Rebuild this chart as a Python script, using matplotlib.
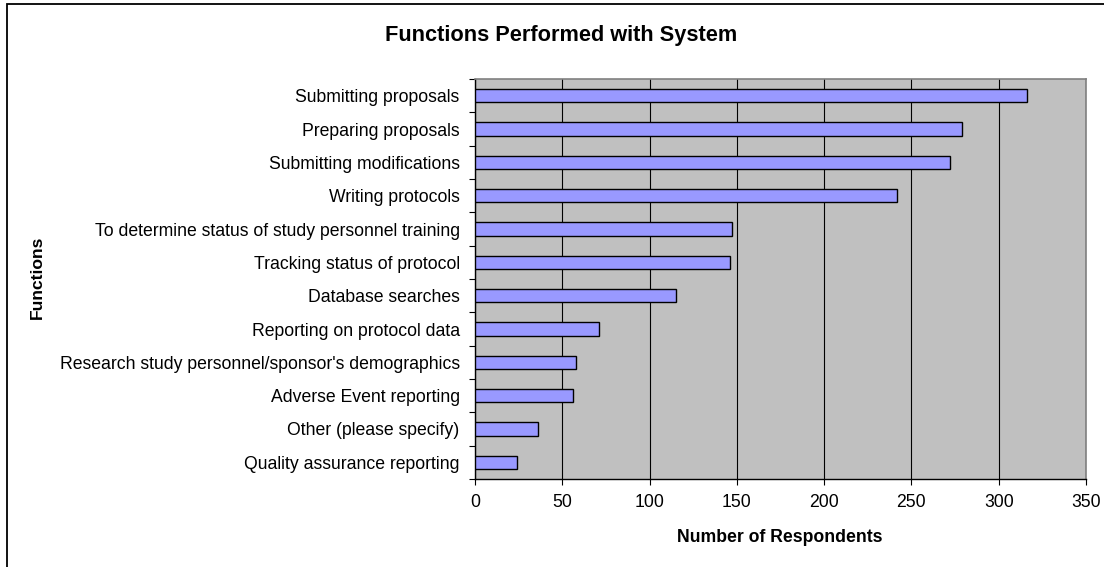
import matplotlib.pyplot as plt
import numpy as np
from matplotlib.patches import Rectangle

plt.rcParams['font.family'] = ['Liberation Sans', 'DejaVu Sans']

# categories, top to bottom as in the chart
functions = [
    "Submitting proposals",
    "Preparing proposals",
    "Submitting modifications",
    "Writing protocols",
    "To determine status of study personnel training",
    "Tracking status of protocol",
    "Database searches",
    "Reporting on protocol data",
    "Research study personnel/sponsor's demographics",
    "Adverse Event reporting",
    "Other (please specify)",
    "Quality assurance reporting",
]
respondents = [316, 279, 272, 242, 147, 146, 115, 71, 58, 56, 36, 24]
x_ticks = [0, 50, 100, 150, 200, 250, 300, 350]

fig = plt.figure(figsize=(11.04, 5.67), dpi=100)
W, H = 1104, 567

# outer chart border (runs off the right and bottom edges)
fig.patches.append(Rectangle((7 / W, -0.1), 1.2, 1 - 4 / H + 0.1,
                             transform=fig.transFigure, fill=False,
                             edgecolor='black', linewidth=1.3))

ax = fig.add_axes([475 / W, 1 - 479 / H, (1086 - 475) / W, (479 - 79) / H])
ax.set_facecolor('#C0C0C0')

n = len(functions)
ypos = np.arange(n)
ax.barh(ypos, respondents, height=0.4, color='#9999FF',
        edgecolor='black', linewidth=1.0, zorder=3)

ax.set_ylim(n - 0.5, -0.5)
ax.set_xlim(0, 350)
ax.set_xticks(x_ticks)
ax.set_xticklabels([str(t) for t in x_ticks], fontsize=12.7)
ax.xaxis.grid(True, color='black', linewidth=0.8, zorder=0)
ax.set_axisbelow(True)

# labels at bar centres, tick marks at category boundaries
ax.set_yticks(ypos)
ax.set_yticklabels(functions, fontsize=12.7)
ax.tick_params(axis='y', length=0, pad=11)
ax.set_yticks(np.arange(n + 1) - 0.5, minor=True)
ax.tick_params(axis='y', which='minor', length=4, width=0.8)
ax.tick_params(axis='x', length=4, width=0.8, pad=7)

for side in ['top', 'right']:
    ax.spines[side].set_color('#808080')
    ax.spines[side].set_linewidth(1.2)
for side in ['left', 'bottom']:
    ax.spines[side].set_color('black')
    ax.spines[side].set_linewidth(1.0)

fig.text(561 / W, 1 - 35 / H, "Functions Performed with System",
         fontsize=15.7, fontweight='bold', ha='center', va='center')
fig.text(780 / W, 1 - 537 / H, "Number of Respondents",
         fontsize=12.7, fontweight='bold', ha='center', va='center')
fig.text(37 / W, 1 - 277 / H, "Functions", rotation=90,
         fontsize=12.6, fontweight='bold', ha='center', va='center')

fig.savefig("out.png", dpi=100)
